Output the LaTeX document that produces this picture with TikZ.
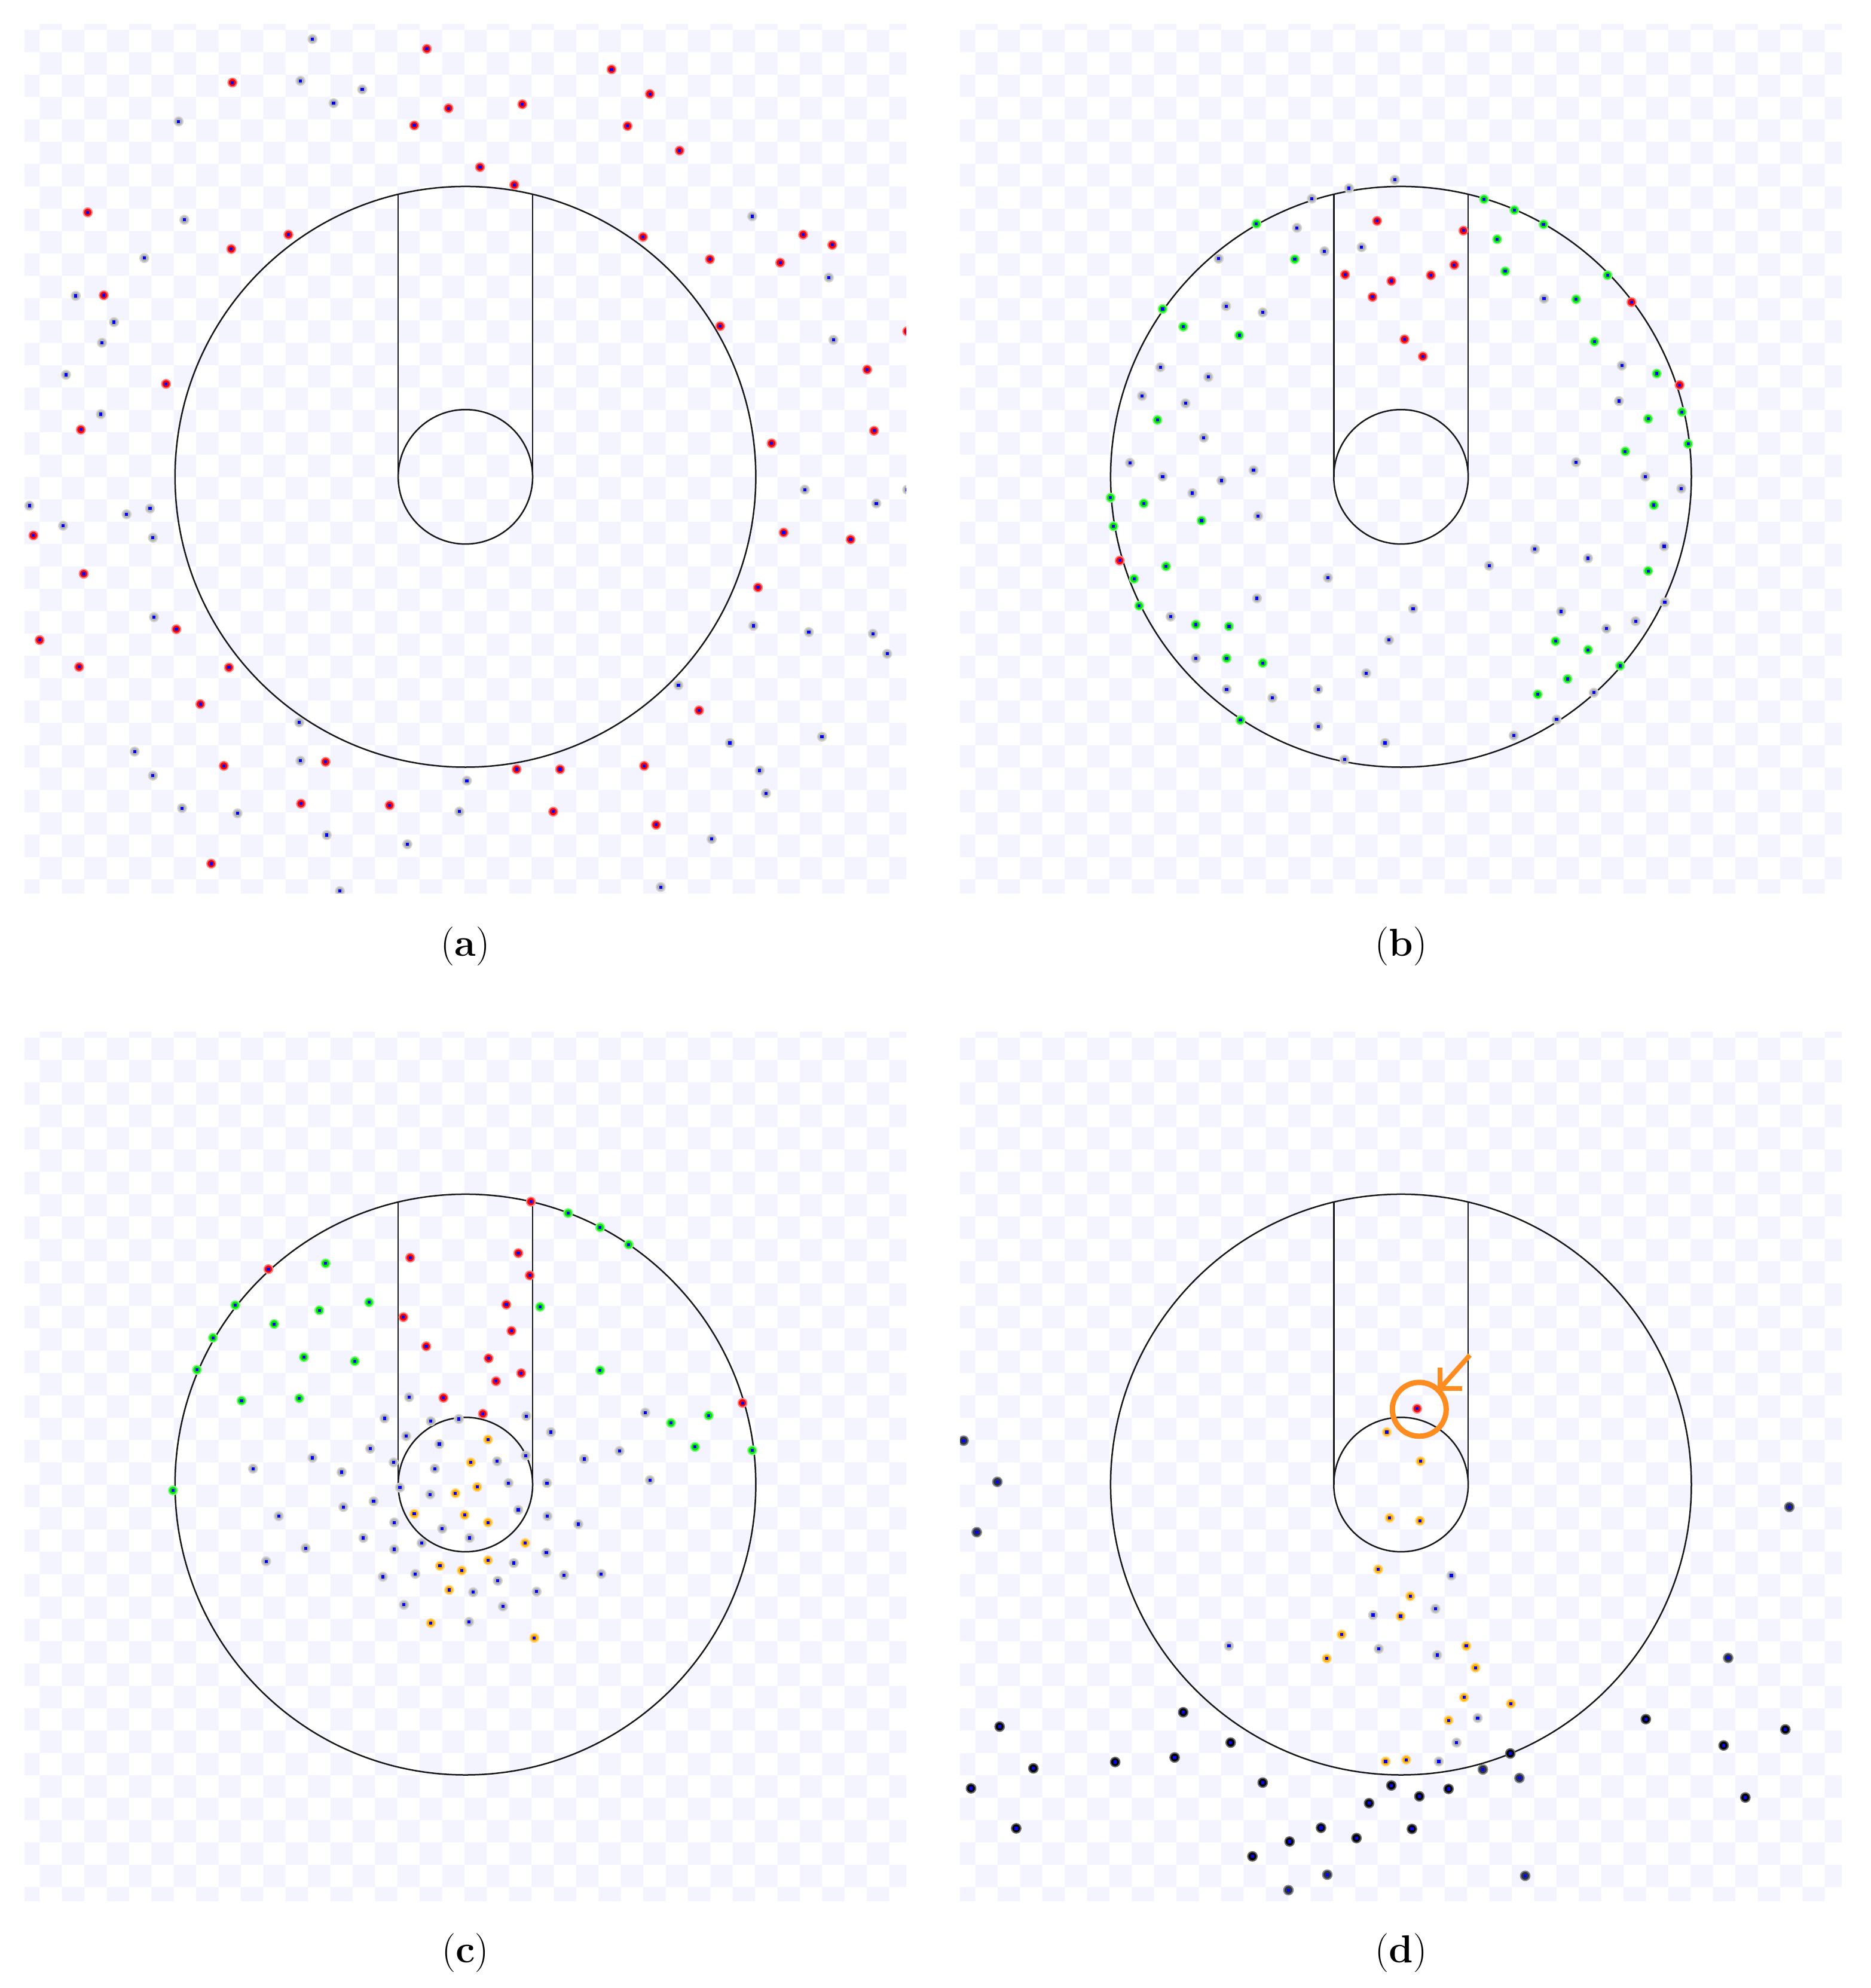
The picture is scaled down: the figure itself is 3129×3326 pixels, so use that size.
\documentclass[tikz,border=0pt]{standalone}
\usepackage{tikz}
\definecolor{lav}{RGB}{243,244,255}
\definecolor{cred}{RGB}{255,0,0}
\definecolor{cgreen}{RGB}{0,235,0}
\definecolor{cgray}{RGB}{178,178,178}
\definecolor{corange}{RGB}{255,175,0}
\definecolor{cblack}{RGB}{0,0,0}
\definecolor{cdark}{RGB}{45,50,62}
\definecolor{cctr}{RGB}{0,0,255}
\definecolor{annor}{RGB}{255,140,30}
\definecolor{geoline}{RGB}{25,25,25}
\tikzset{
  pt/.style={circle, inner sep=0pt, outer sep=0pt, minimum size=0.145cm, line width=0.022cm,
    path picture={\fill[cctr] ([xshift=-0.026cm,yshift=-0.026cm]path picture bounding box.center) rectangle ([xshift=0.026cm,yshift=0.026cm]path picture bounding box.center);}},
  rdot/.style={pt, fill=cred, draw=cred!50},
  ndot/.style={pt, fill=cgreen, draw=cgreen!50},
  gdot/.style={pt, fill=cgray, draw=cgray!60},
  odot/.style={pt, fill=corange, draw=corange!50},
  kdot/.style={pt, minimum size=0.155cm, fill=cblack, draw=cblack!60},
  ddot/.style={pt, minimum size=0.155cm, fill=cdark, draw=cdark!60},
  geo/.style={draw=geoline, line width=0.025cm},
  annline/.style={draw=annor, line width=0.08cm, line join=miter},
  annring/.style={circle, draw=annor, line width=0.09cm, minimum size=0.9cm, inner sep=0pt},
  captext/.style={font=\fontsize{18.5}{22}\selectfont, inner sep=0pt}
}
\begin{document}
\begin{tikzpicture}[x=0.01cm, y=-0.01cm]
\useasboundingbox (0,0) rectangle (3129,3326);
\fill[white] (0,0) rectangle (3129,3326);

% checkered backgrounds
\foreach \ox/\oy in {40.8/40, 1606/40, 40.8/1726, 1606/1726} {
  \begin{scope}[shift={(\ox,\oy)}]
    \clip (0,0) rectangle (1475.2,1454.7);
    \fill[lav]
      \foreach \i in {0,2,...,38} { \foreach \j in {1,3,...,39} { ({\i*37.4-11.9},{\j*37.4-27.4}) rectangle ++(37.4,37.4) } }
      \foreach \i in {1,3,...,39} { \foreach \j in {0,2,...,38} { ({\i*37.4-11.9},{\j*37.4-27.4}) rectangle ++(37.4,37.4) } };
  \end{scope}
}

% geometry: outer circle, inner circle, slot
\foreach \cx/\cy in {778.6/797.7, 2343.7/797.7, 778.6/2483.7, 2343.7/2483.7} {
  \draw[geo] (\cx,\cy) circle[radius=4.855cm];
  \draw[geo] (\cx,\cy) circle[radius=1.124cm];
  \draw[geo] ({\cx-112.4},\cy) -- ({\cx-112.4},{\cy-472.3});
  \draw[geo] ({\cx+112.4},\cy) -- ({\cx+112.4},{\cy-472.3});
}

% ---------- panel (a)
\begin{scope}
\clip (40.8,40) rectangle (1516,1494.7);
\begin{scope}[shift={(30,30)}, scale=0.95666]
\foreach \x/\y [count=\k] in {515/37, 494/110, 602/125, 552/149, 281/181, 291/353, 221/420, 1284/347, 1418/454, 101/486, 168/532, 147/568, 1426/563, 84/624, 145/693, 1376/825, 1501/849, 1555/825, 20/853, 79/888, 190/868, 231/858, 236/909, 238/1048, 1286/1063, 1383/1074, 1495/1077, 1520/1112, 1155/1167, 492/1232, 1245/1268, 1406/1257, 204/1283, 494/1299, 236/1325, 1297/1316, 785/1334, 1308/1356, 287/1382, 384/1391, 772/1388, 540/1429, 681/1445, 1213/1436, 563/1527, 1124/1520}
  \node[gdot] (a-g\k) at (\x,\y) {};
\foreach \x/\y [count=\k] in {715/54, 375/113, 1038/90, 1105/133, 753/158, 882/151, 693/188, 1066/189, 1157/232, 808/261, 868/292, 122/340, 473/379, 373/404, 1093/383, 1373/379, 1424/397, 1210/422, 1333/428, 150/485, 1228/539, 1555/548, 259/640, 1485/615, 110/720, 1497/722, 1318/744, 27/905, 1339/900, 1456/912, 115/972, 1294/996, 277/1069, 38/1088, 107/1135, 369/1136, 319/1200, 1191/1211, 538/1301, 360/1308, 872/1314, 948/1314, 1095/1308, 495/1374, 650/1377, 936/1388, 1116/1411, 338/1479}
  \node[rdot] (a-r\k) at (\x,\y) {};
\end{scope}
\end{scope}

% ---------- panel (b)
\begin{scope}
\clip (1606,40) rectangle (3081.2,1494.7);
\begin{scope}[shift={(1590,30)}, scale=0.95666]
\foreach \x/\y [count=\k] in {777/283, 697/298, 632/316, 606/367, 469/421, 654/408, 719/401, 482/504, 546/515, 1038/491, 1174/608, 367/611, 451/628, 335/661, 411/674, 1169/670, 443/734, 314/778, 1094/777, 371/802, 474/809, 530/791, 1215/802, 1278/823, 423/831, 538/871, 1022/929, 1248/924, 1115/945, 942/958, 660/979, 536/1015, 809/1033, 1249/1022, 1068/1038, 385/1047, 1198/1055, 1147/1068, 767/1088, 429/1120, 727/1146, 483/1174, 563/1189, 643/1174, 1125/1180, 1060/1227, 643/1239, 985/1255, 760/1268, 689/1297}
  \node[gdot] (b-g\k) at (\x,\y) {};
\foreach \x/\y [count=\k] in {933/317, 986/336, 1037/361, 535/360, 956/387, 602/422, 970/443, 1149/450, 1094/492, 371/509, 407/540, 505/555, 1126/566, 1235/622, 1279/689, 362/703, 1220/701, 1290/745, 1180/758, 280/839, 338/849, 1230/852, 439/879, 285/889, 377/959, 1220/967, 321/981, 330/1028, 429/1061, 487/1064, 1058/1090, 1115/1105, 483/1120, 546/1128, 1171/1133, 1079/1156, 1027/1183, 507/1228}
  \node[ndot] (b-n\k) at (\x,\y) {};
\foreach \x/\y [count=\k] in {746/355, 897/372, 690/449, 771/460, 840/450, 881/432, 738/488, 1191/497, 794/562, 826/592, 1275/642, 296/949}
  \node[rdot] (b-r\k) at (\x,\y) {};
\end{scope}
\end{scope}

% ---------- panel (c)
\begin{scope}
\clip (40.8,1726) rectangle (1516,3180.7);
\begin{scope}[shift={(30,1710)}, scale=0.95666]
\foreach \x/\y [count=\k] in {684/656, 641/693, 722/698, 771/694, 889/689, 679/724, 737/738, 932/717, 616/746, 1097/683, 1052/750, 888/758, 838/768, 657/770, 515/762, 411/781, 566/787, 729/781, 990/764, 1105/801, 668/814, 858/806, 925/806, 721/826, 622/838, 569/848, 875/853, 926/864, 456/864, 658/875, 742/886, 980/878, 790/902, 604/902, 706/911, 503/920, 658/922, 924/928, 434/943, 867/946, 695/965, 638/970, 839/977, 955/967, 1020/965, 796/997, 907/996, 675/1019, 848/1022, 789/1049}
  \node[gdot] (c-g\k) at (\x,\y) {};
\foreach \x/\y [count=\k] in {822/730, 792/770, 803/813, 765/824, 693/860, 781/862, 822/875, 887/911, 738/951, 776/959, 822/941, 754/993, 722/1051, 903/1077}
  \node[odot] (c-o\k) at (\x,\y) {};
\foreach \x/\y [count=\k] in {962/334, 1018/359, 1068/389, 538/422, 380/495, 614/490, 527/504, 913/498, 448/528, 341/552, 500/586, 589/593, 313/608, 1018/609, 391/662, 492/658, 1142/701, 1208/688, 1184/743, 1284/749, 271/819}
  \node[ndot] (c-n\k) at (\x,\y) {};
\foreach \x/\y [count=\k] in {897/314, 686/412, 875/404, 438/432, 895/443, 854/494, 674/516, 863/540, 714/567, 823/588, 880/614, 836/628, 744/657, 813/685, 1267/666}
  \node[rdot] (c-r\k) at (\x,\y) {};
\end{scope}
\end{scope}

% ---------- panel (d)
\begin{scope}
\clip (1606,1726) rectangle (3081.2,3180.7);
\begin{scope}[shift={(1590,1710)}, scale=0.95666]
\foreach \x/\y [count=\k] in {876/968, 848/1026, 739/1037, 487/1091, 749/1096, 851/1107, 922/1217, 885/1260, 854/1293}
  \node[gdot] (d-g\k) at (\x,\y) {};
\foreach \x/\y [count=\k] in {763/717, 822/768, 768/867, 821/872, 748/957, 804/1004, 787/1039, 684/1071, 658/1113, 902/1091, 918/1129, 898/1181, 980/1192, 871/1221, 761/1293, 797/1290}
  \node[odot] (d-o\k) at (\x,\y) {};
\foreach \x/\y [count=\k] in {23/732, 82/804, 46/892, 1467/848, 1360/1112, 931/1307, 995/1322, 659/1491, 591/1518, 1005/1493}
  \node[ddot] (d-d\k) at (\x,\y) {};
\foreach \x/\y [count=\k] in {86/1232, 407/1207, 1216/1219, 1460/1237, 145/1305, 288/1294, 392/1286, 490/1260, 1352/1265, 36/1340, 546/1330, 979/1279, 771/1335, 820/1354, 871/1341, 732/1366, 1390/1356, 115/1410, 648/1409, 710/1427, 807/1411, 593/1433, 528/1459}
  \node[kdot] (d-k\k) at (\x,\y) {};
\node[rdot] (d-r1) at (816,676) {};
\end{scope}
\end{scope}

% annotation in (d)
\node[annring] (mark) at (2374.3,2357.8) {};
\coordinate (arrtail) at (2459,2267);
\draw[annline] (arrtail) -- (mark.north east);
\draw[annline] ([yshift=0.35cm]mark.north east) -- (mark.north east) -- ([xshift=0.37cm]mark.north east);

% captions
\node[captext] (cap-a) at (778.6,1583) {(\textbf{a})};
\node[captext] (cap-b) at (2343.7,1583) {(\textbf{b})};
\node[captext] (cap-c) at (778.6,3267) {(\textbf{c})};
\node[captext] (cap-d) at (2343.7,3267) {(\textbf{d})};
\end{tikzpicture}
\end{document}
